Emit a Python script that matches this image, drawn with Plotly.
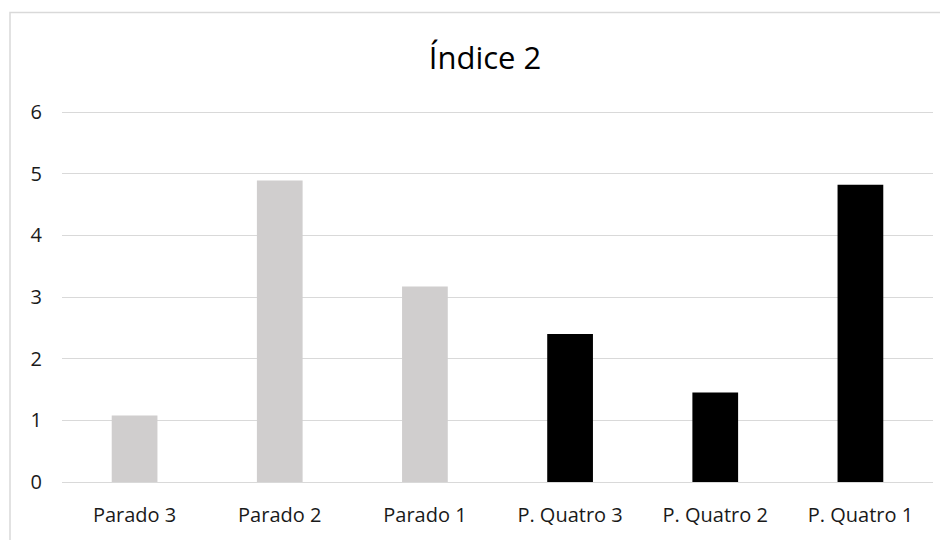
import plotly.graph_objects as go

categories = ["Parado 3", "Parado 2", "Parado 1", "P. Quatro 3", "P. Quatro 2", "P. Quatro 1"]
values = [1.08, 4.89, 3.17, 2.40, 1.45, 4.82]
bar_colors = ["#d0cece", "#d0cece", "#d0cece", "#000000", "#000000", "#000000"]
y_ticks = [0, 1, 2, 3, 4, 5, 6]

# page body has an 8px margin, so figure coordinates = screen - 8
W, H = 940, 532
ml, mr, mt, mb = 54, 15, 101, 56

fig = go.Figure(go.Bar(x=categories, y=values, marker=dict(color=bar_colors, line=dict(width=0)),
                       width=0.315))

pw = W - ml - mr
ph = H - mt - mb
def px_to_paper_x(px):
    return (px - ml) / pw
def px_to_paper_y(py):
    return (H - mb - py) / ph

fig.update_layout(
    width=W, height=H,
    margin=dict(l=ml, r=mr, t=mt, b=mb),
    paper_bgcolor="white", plot_bgcolor="white",
    font=dict(family="Open Sans, sans-serif", size=19, color="#404040"),
    title=dict(text="Índice 2", x=477 / W, xref="container", y=1 - 50 / H, yref="container",
               yanchor="middle", xanchor="center",
               font=dict(family="Open Sans, sans-serif", size=31, color="#000000")),
    showlegend=False,
    xaxis=dict(showgrid=False, showline=False, ticks="", ticklabelstandoff=19,
               tickfont=dict(size=20, color="#1a1a1a")),
    yaxis=dict(range=[0, 6.05], tickvals=y_ticks, showgrid=True, gridcolor="#d9d9d9", gridwidth=1,
               zeroline=True, zerolinecolor="#d9d9d9", zerolinewidth=1, showline=False, ticks="",
               ticklabelstandoff=19, tickfont=dict(size=20, color="#1a1a1a")),
    shapes=[dict(type="rect", xref="paper", yref="paper",
                 x0=px_to_paper_x(2), x1=px_to_paper_x(960),
                 y0=px_to_paper_y(560), y1=px_to_paper_y(4),
                 line=dict(color="#d9d9d9", width=1.5), fillcolor="rgba(0,0,0,0)", layer="below")],
)

fig.write_html("out.html")
